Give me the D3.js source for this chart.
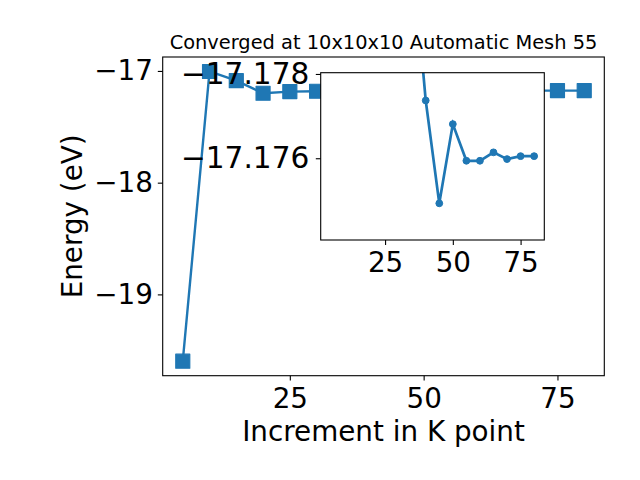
<!DOCTYPE html>
<html>
<head>
<meta charset="utf-8">
<script src="https://cdn.jsdelivr.net/npm/d3@7"></script>
<style>
  body { margin: 0; background: #fff; }
  text { font-family: "DejaVu Sans", sans-serif; fill: #000; }
</style>
</head>
<body>
<script>
// k point increments and converged energies (eV)
var kPoints = [5, 10, 15, 20, 25, 30, 35, 40, 45, 50, 55, 60, 65, 70, 75, 80];
var energies = [-19.598, -17.005, -17.087, -17.200, -17.185, -17.182, -17.181,
                -17.17737, -17.17493, -17.17681, -17.17594, -17.17594,
                -17.17614, -17.17598, -17.17605, -17.17605];

var xTicks = [25, 50, 75];
var yTicks = [-19, -18, -17];
var insetYTicks = [-17.178, -17.176];
var insetYLimits = [-17.17803, -17.17406]; // top, bottom (inverted axis)
var insetFromK = 25; // inset only shows the converging tail

var titleText = "Converged at 10x10x10 Automatic Mesh 55";
var xLabel = "Increment in K point";
var yLabel = "Energy (eV)";

var color = "#1f77b4";
var W = 640, H = 480;

// main axes box
var ax = {left: 162.7, right: 604.3, top: 57, bottom: 375.7};
// inset axes box
var ins = {left: 320.7, right: 544.3, top: 72.7, bottom: 240};

var data = kPoints.map(function(k, i){ return {x: k, y: energies[i]}; });
var tail = data.filter(function(d){ return d.x >= insetFromK; });

function padded(ext) {
  var r = ext[1] - ext[0];
  return [ext[0] - 0.05 * r, ext[1] + 0.05 * r];
}

var xDom = padded(d3.extent(kPoints));
var yDom = padded(d3.extent(energies));

var x = d3.scaleLinear().domain(xDom).range([ax.left, ax.right]);
var y = d3.scaleLinear().domain(yDom).range([ax.bottom, ax.top]);

var xi = d3.scaleLinear().domain(xDom).range([ins.left, ins.right]);
var yi = d3.scaleLinear().domain(insetYLimits).range([ins.top, ins.bottom]);

var minus = function(v, f){ return d3.format(f)(v).replace("-", "\u2212"); };

var svg = d3.select("body").append("svg")
    .attr("width", W).attr("height", H);

svg.append("rect").attr("width", W).attr("height", H).attr("fill", "#fff");

var defs = svg.append("defs");
defs.append("clipPath").attr("id", "clipMain").append("rect")
    .attr("x", ax.left).attr("y", ax.top)
    .attr("width", ax.right - ax.left).attr("height", ax.bottom - ax.top);
defs.append("clipPath").attr("id", "clipInset").append("rect")
    .attr("x", ins.left).attr("y", ins.top)
    .attr("width", ins.right - ins.left).attr("height", ins.bottom - ins.top);

var fs = 27.8;

// ---- main axes ----
var gMain = svg.append("g").attr("clip-path", "url(#clipMain)");
gMain.append("path").datum(data)
    .attr("fill", "none").attr("stroke", color).attr("stroke-width", 2.4)
    .attr("d", d3.line().x(function(d){ return x(d.x); }).y(function(d){ return y(d.y); }));
var sq = 14;
gMain.selectAll("rect.m").data(data).enter().append("rect")
    .attr("class", "m")
    .attr("x", function(d){ return x(d.x) - sq / 2; })
    .attr("y", function(d){ return y(d.y) - sq / 2; })
    .attr("width", sq).attr("height", sq)
    .attr("fill", color).attr("stroke", color).attr("stroke-width", 1.2)
    .attr("stroke-linejoin", "round");

svg.append("rect")
    .attr("x", ax.left).attr("y", ax.top)
    .attr("width", ax.right - ax.left).attr("height", ax.bottom - ax.top)
    .attr("fill", "none").attr("stroke", "#000").attr("stroke-width", 1.1);

var xAxis = svg.append("g").attr("transform", "translate(0," + ax.bottom + ")")
    .call(d3.axisBottom(x).tickValues(xTicks).tickSize(4.9).tickPadding(4.9).tickFormat(d3.format("d")));
var yAxis = svg.append("g").attr("transform", "translate(" + ax.left + ",0)")
    .call(d3.axisLeft(y).tickValues(yTicks).tickSize(4.9).tickPadding(4.9)
      .tickFormat(function(v){ return minus(v, "d"); }));

[xAxis, yAxis].forEach(function(g){
  g.select(".domain").remove();
  g.selectAll(".tick line").attr("stroke", "#000").attr("stroke-width", 1.1);
  g.selectAll("text").attr("font-family", "DejaVu Sans").attr("font-size", fs).attr("fill", "#000");
});
xAxis.selectAll("text").attr("dy", null).attr("y", 32).attr("dominant-baseline", "alphabetic");

svg.append("text").attr("x", (ax.left + ax.right) / 2).attr("y", 441)
    .attr("text-anchor", "middle").attr("font-size", fs).text(xLabel);
svg.append("text").attr("transform", "translate(82," + (ax.top + ax.bottom) / 2 + ") rotate(-90)")
    .attr("text-anchor", "middle").attr("font-size", fs).text(yLabel);
svg.append("text").attr("x", (ax.left + ax.right) / 2).attr("y", 48.5)
    .attr("text-anchor", "middle").attr("font-size", 19.4).text(titleText);

// ---- inset axes ----
svg.append("rect")
    .attr("x", ins.left).attr("y", ins.top)
    .attr("width", ins.right - ins.left).attr("height", ins.bottom - ins.top)
    .attr("fill", "#fff");

var gIns = svg.append("g").attr("clip-path", "url(#clipInset)");
gIns.append("path").datum(tail)
    .attr("fill", "none").attr("stroke", color).attr("stroke-width", 2.7)
    .attr("d", d3.line().x(function(d){ return xi(d.x); }).y(function(d){ return yi(d.y); }));
gIns.selectAll("circle").data(tail).enter().append("circle")
    .attr("cx", function(d){ return xi(d.x); })
    .attr("cy", function(d){ return yi(d.y); })
    .attr("r", 3.4)
    .attr("fill", color).attr("stroke", color).attr("stroke-width", 1);

svg.append("rect")
    .attr("x", ins.left).attr("y", ins.top)
    .attr("width", ins.right - ins.left).attr("height", ins.bottom - ins.top)
    .attr("fill", "none").attr("stroke", "#000").attr("stroke-width", 1.1);

var xiAxis = svg.append("g").attr("transform", "translate(0," + ins.bottom + ")")
    .call(d3.axisBottom(xi).tickValues(xTicks).tickSize(4.9).tickPadding(4.9).tickFormat(d3.format("d")));
var yiAxis = svg.append("g").attr("transform", "translate(" + ins.left + ",0)")
    .call(d3.axisLeft(yi).tickValues(insetYTicks).tickSize(4.9).tickPadding(6.5)
      .tickFormat(function(v){ return minus(v, ".3f"); }));

[xiAxis, yiAxis].forEach(function(g){
  g.select(".domain").remove();
  g.selectAll(".tick line").attr("stroke", "#000").attr("stroke-width", 1.1);
  g.selectAll("text").attr("font-family", "DejaVu Sans").attr("font-size", fs).attr("fill", "#000");
});
yiAxis.selectAll("text").attr("font-size", 29.6);
xiAxis.selectAll("text").attr("dy", null).attr("y", 32).attr("dominant-baseline", "alphabetic");
</script>
</body>
</html>
